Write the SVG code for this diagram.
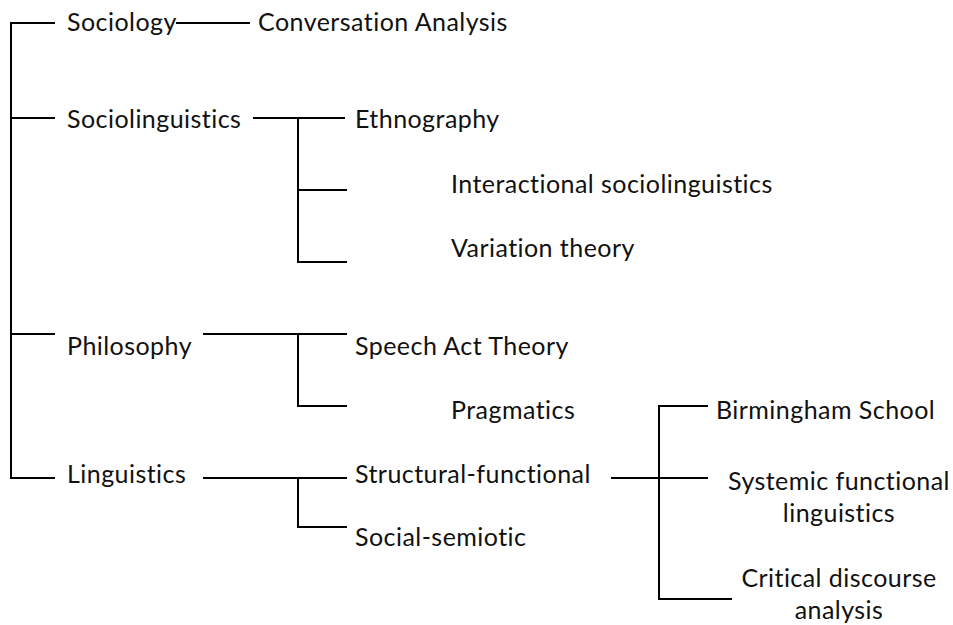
<svg xmlns="http://www.w3.org/2000/svg" width="953" height="625" viewBox="0 0 953 625">
  <style>
    .lbl { font-family: Lato, "Open Sans", "Liberation Sans", sans-serif; font-size: 25px; letter-spacing: 0.45px; fill: #111; }
    .mid { text-anchor: middle; }
    .wire { fill: none; stroke: #000; stroke-width: 2; }
  </style>
  <rect width="953" height="625" fill="#fff"/>

  <!-- tree connectors -->
  <g id="connectors" class="wire">
    <!-- root spine -->
    <path d="M55 23 H11 V478 H55"/>
    <path d="M11 118 H55"/>
    <path d="M11 334 H55"/>
    <!-- Sociology -> Conversation Analysis -->
    <path d="M176 23 H250"/>
    <!-- Sociolinguistics branches -->
    <path d="M253 118 H345"/>
    <path d="M298 118 V262 H347"/>
    <path d="M298 190 H347"/>
    <!-- Philosophy branches -->
    <path d="M203 334 H347"/>
    <path d="M298 334 V406 H347"/>
    <!-- Linguistics branches -->
    <path d="M203 478 H347"/>
    <path d="M298 478 V527 H347"/>
    <!-- Structural-functional branches -->
    <path d="M611 478 H708"/>
    <path d="M708 406 H659 V599 H732"/>
  </g>

  <g id="sociology"><text class="lbl" x="67" y="31">Sociology</text></g>
  <g id="conversation-analysis"><text class="lbl" x="258" y="31">Conversation Analysis</text></g>

  <g id="sociolinguistics"><text class="lbl" x="67" y="128">Sociolinguistics</text></g>
  <g id="ethnography"><text class="lbl" x="355" y="128">Ethnography</text></g>
  <g id="interactional-sociolinguistics"><text class="lbl" x="451" y="193">Interactional sociolinguistics</text></g>
  <g id="variation-theory"><text class="lbl" x="451" y="257">Variation theory</text></g>

  <g id="philosophy"><text class="lbl" x="67" y="355">Philosophy</text></g>
  <g id="speech-act-theory"><text class="lbl" x="355" y="355">Speech Act Theory</text></g>
  <g id="pragmatics"><text class="lbl" x="451" y="419">Pragmatics</text></g>

  <g id="linguistics"><text class="lbl" x="67" y="483">Linguistics</text></g>
  <g id="structural-functional"><text class="lbl" x="355" y="483">Structural-functional</text></g>
  <g id="social-semiotic"><text class="lbl" x="355" y="546">Social-semiotic</text></g>

  <g id="birmingham-school"><text class="lbl" x="716" y="419">Birmingham School</text></g>
  <g id="systemic-functional-linguistics">
    <text class="lbl mid" x="839" y="490">Systemic functional</text>
    <text class="lbl mid" x="839" y="522">linguistics</text>
  </g>
  <g id="critical-discourse-analysis">
    <text class="lbl mid" x="839" y="587">Critical discourse</text>
    <text class="lbl mid" x="839" y="619">analysis</text>
  </g>
</svg>
